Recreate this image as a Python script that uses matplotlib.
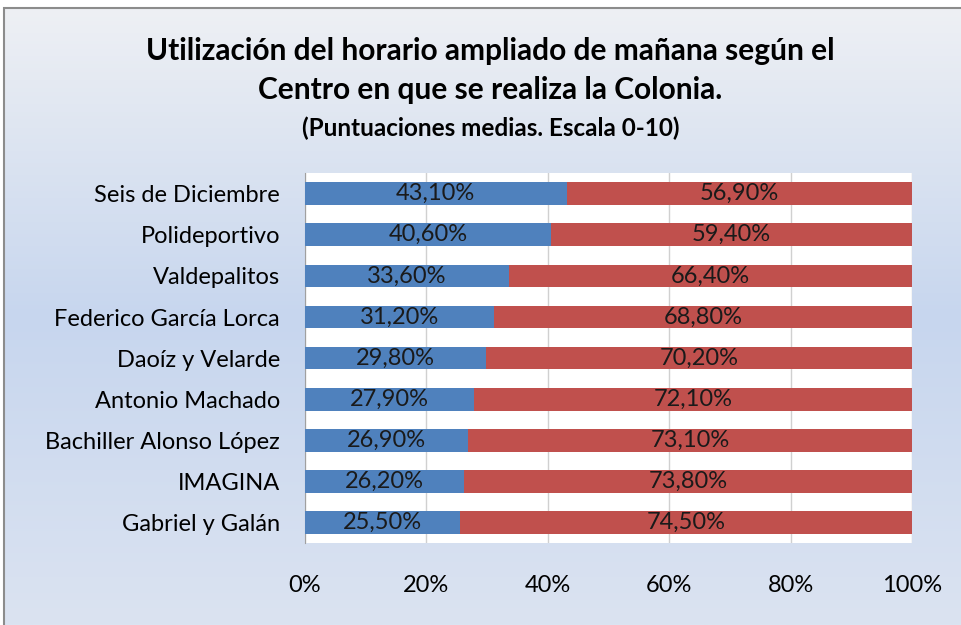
import numpy as np
import matplotlib.pyplot as plt
from matplotlib.patches import Rectangle
from matplotlib.colors import LinearSegmentedColormap

centros = ["Seis de Diciembre", "Polideportivo", "Valdepalitos", "Federico García Lorca",
           "Daoíz y Velarde", "Antonio Machado", "Bachiller Alonso López", "IMAGINA",
           "Gabriel y Galán"]
si = [43.1, 40.6, 33.6, 31.2, 29.8, 27.9, 26.9, 26.2, 25.5]
no = [56.9, 59.4, 66.4, 68.8, 70.2, 72.1, 73.1, 73.8, 74.5]
xticks = [0, 20, 40, 60, 80, 100]

plt.rcParams['font.family'] = ['Lato', 'DejaVu Sans']

fig = plt.figure(figsize=(9.62, 6.25), dpi=100)

# degradado de fondo
bg = fig.add_axes([0.004, 0, 0.996, 0.987], zorder=-10)
cmap = LinearSegmentedColormap.from_list("fondo", ["#eef0f4", "#c7d6ee", "#dbe3f1"])
grad = np.linspace(0, 1, 256).reshape(-1, 1)
bg.imshow(grad, aspect="auto", cmap=cmap, extent=[0, 1, 0, 1])
bg.set_axis_off()
fig.patches.append(Rectangle((0.004, -0.01), 1.0, 0.997, transform=fig.transFigure,
                             fill=False, edgecolor="#8c8c8c", linewidth=1.5, zorder=5))

ax = fig.add_axes([0.317, 0.131, 0.631, 0.592])
ax.set_facecolor("white")
y = np.arange(len(centros))
ax.barh(y, si, height=0.55, color="#4f81bd", zorder=3)
ax.barh(y, no, left=si, height=0.55, color="#c0504d", zorder=3)

for i in range(len(centros)):
    ax.text(si[i] / 2, y[i], ("%.2f%%" % si[i]).replace(".", ","), ha="center",
            va="center", fontsize=17, color="#1a1a1a", zorder=4)
    ax.text(si[i] + no[i] / 2, y[i], ("%.2f%%" % no[i]).replace(".", ","), ha="center",
            va="center", fontsize=17, color="#1a1a1a", zorder=4)

ax.set_xlim(0, 100)
ax.set_ylim(len(centros) - 0.5, -0.5)
ax.set_xticks(xticks)
ax.set_xticklabels(["%d%%" % t for t in xticks], fontsize=17)
ax.set_yticks(y)
ax.set_yticklabels(centros, fontsize=17)
ax.tick_params(axis="x", length=0, pad=23)
ax.tick_params(axis="y", length=0, pad=18)
ax.grid(axis="x", color="#d0d0d0", linewidth=1, zorder=0)
for s in ["top", "right", "bottom"]:
    ax.spines[s].set_visible(False)
ax.spines["left"].set_color("#a0a0a0")

fig.text(0.51, 0.918, "Utilización del horario ampliado de mañana según el", ha="center",
         va="center", fontsize=21.5, fontweight="bold")
fig.text(0.51, 0.856, "Centro en que se realiza la Colonia.", ha="center",
         va="center", fontsize=21.5, fontweight="bold")
fig.text(0.51, 0.795, "(Puntuaciones medias. Escala 0-10)", ha="center",
         va="center", fontsize=17.5, fontweight="bold")

fig.savefig("out.png", dpi=100)
